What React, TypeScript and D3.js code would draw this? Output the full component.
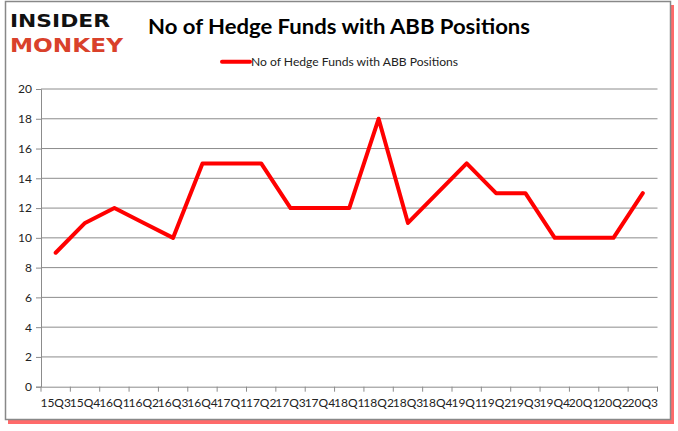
import { useEffect, useRef } from 'react';
import * as d3 from 'd3';

const quarters = [
  '15Q3', '15Q4', '16Q1', '16Q2', '16Q3', '16Q4', '17Q1', '17Q2', '17Q3', '17Q4',
  '18Q1', '18Q2', '18Q3', '18Q4', '19Q1', '19Q2', '19Q3', '19Q4', '20Q1', '20Q2', '20Q3',
];
const hedgeFunds = [9, 11, 12, 11, 10, 15, 15, 15, 12, 12, 12, 18, 11, 13, 15, 13, 13, 10, 10, 10, 13];
const yTicks = [0, 2, 4, 6, 8, 10, 12, 14, 16, 18, 20];
const seriesName = 'No of Hedge Funds with ABB Positions';

const W = 678;
const H = 431;

export default function App() {
  const svgRef = useRef<SVGSVGElement>(null);

  useEffect(() => {
    document.body.style.margin = '0';
    document.body.style.overflow = 'hidden';
    if (!svgRef.current) return;
    const svg = d3.select(svgRef.current);
    svg.selectAll('*').remove();

    const font = 'Lato, "Open Sans", sans-serif';
    const margin = { top: 89, right: 20, bottom: 44, left: 41 };
    const plotW = 657.5 - margin.left;
    const plotH = 386.7 - margin.top;

    // reddish shadow, then the grey frame on top
    svg.append('rect')
      .attr('x', 8).attr('y', 5).attr('width', 666).attr('height', 419)
      .attr('fill', '#ff5050').attr('opacity', 0.85);
    svg.append('rect')
      .attr('x', 5.5).attr('y', 1.5).attr('width', 665).attr('height', 418)
      .attr('fill', '#fff').attr('stroke', '#888').attr('stroke-width', 1.5);

    // logo
    svg.append('text').attr('x', 10).attr('y', 27)
      .style('font-family', '"DejaVu Sans", sans-serif').style('font-weight', 900)
      .style('font-size', '18px').attr('textLength', 100).attr('lengthAdjust', 'spacingAndGlyphs')
      .attr('fill', '#111').text('INSIDER');
    svg.append('text').attr('x', 10).attr('y', 52)
      .style('font-family', '"DejaVu Sans", sans-serif').style('font-weight', 900)
      .style('font-size', '20px').attr('textLength', 113).attr('lengthAdjust', 'spacingAndGlyphs')
      .attr('fill', '#d9412b').text('MONKEY');

    // title
    svg.append('text').attr('x', 339).attr('y', 34).attr('text-anchor', 'middle')
      .style('font-family', font).style('font-weight', 700).style('font-size', '20px')
      .attr('textLength', 382).attr('lengthAdjust', 'spacingAndGlyphs')
      .attr('fill', '#000').text('No of Hedge Funds with ABB Positions');

    // legend
    svg.append('line').attr('x1', 222).attr('x2', 250).attr('y1', 61.7).attr('y2', 61.7)
      .attr('stroke', '#ff0000').attr('stroke-width', 4).attr('stroke-linecap', 'round');
    svg.append('text').attr('x', 251).attr('y', 66)
      .style('font-family', font).style('font-size', '12px')
      .attr('textLength', 207).attr('lengthAdjust', 'spacingAndGlyphs')
      .attr('fill', '#222').text(seriesName);

    const g = svg.append('g').attr('transform', `translate(${margin.left},${margin.top})`);

    const x = d3.scaleBand().domain(quarters).range([0, plotW]);
    const y = d3.scaleLinear().domain([0, 20]).range([plotH, 0]);

    // gridlines
    g.selectAll('.grid').data(yTicks.filter(t => t > 0)).enter().append('line')
      .attr('x1', 0).attr('x2', plotW)
      .attr('y1', d => y(d)).attr('y2', d => y(d))
      .attr('stroke', '#8c8c8c').attr('stroke-width', 1);

    // y axis
    const yAxis = g.append('g').call(d3.axisLeft(y).tickValues(yTicks).tickSize(5).tickPadding(4));
    yAxis.select('.domain').attr('stroke', '#8c8c8c');
    yAxis.selectAll('line').attr('stroke', '#8c8c8c');
    yAxis.selectAll('text').style('font-family', font).style('font-size', '12px').attr('fill', '#222');

    // x axis
    const xAxis = g.append('g').attr('transform', `translate(0,${plotH})`)
      .call(d3.axisBottom(x).tickSize(0).tickPadding(12));
    xAxis.select('.domain').attr('stroke', '#8c8c8c');
    xAxis.selectAll('text').style('font-family', font).style('font-size', '12px').attr('fill', '#222');
    const bounds = quarters.map(q => x(q)!).concat([plotW]);
    g.selectAll('.xtick').data(bounds).enter().append('line')
      .attr('x1', d => d).attr('x2', d => d)
      .attr('y1', plotH).attr('y2', plotH + 5)
      .attr('stroke', '#8c8c8c');

    // series line
    const line = d3.line<number>()
      .x((_, i) => x(quarters[i])! + x.bandwidth() / 2)
      .y(d => y(d));
    g.append('path').datum(hedgeFunds)
      .attr('d', line)
      .attr('fill', 'none').attr('stroke', '#ff0000').attr('stroke-width', 4)
      .attr('stroke-linejoin', 'round').attr('stroke-linecap', 'round');
  }, []);

  return <svg ref={svgRef} width={W} height={H} style={{ display: 'block' }} />;
}
